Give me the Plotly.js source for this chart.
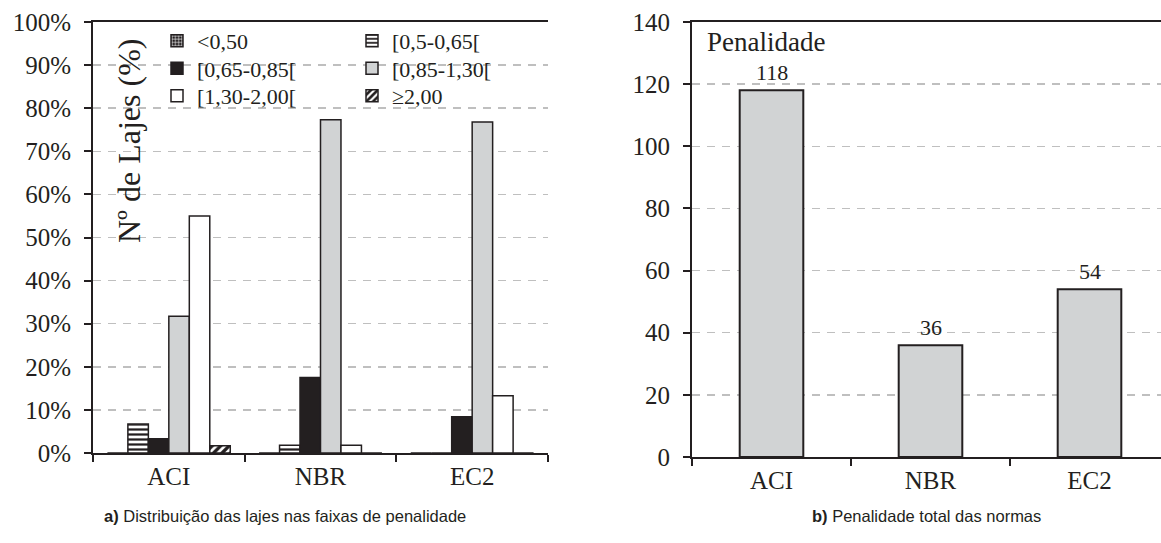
<!DOCTYPE html>
<html><head><meta charset="utf-8">
<script src="https://cdn.plot.ly/plotly-3.0.1.min.js"></script>
<style>body{margin:0;padding:0;background:#fff}#chart{width:1161px;height:543px}</style>
</head><body><div id="chart"></div>
<script>
const normas = ['ACI', 'NBR', 'EC2'];
const faixas = ['<0,50', '[0,5-0,65[', '[0,65-0,85[', '[0,85-1,30[', '[1,30-2,00[', '≥2,00'];
const pctMenor050 = [0, 0, 0];
const pct050a065 = [6.7, 1.8, 0];
const pct065a085 = [3.3, 17.5, 8.4];
const pct085a130 = [31.7, 77.3, 76.8];
const pct130a200 = [55.0, 1.8, 13.3];
const pctMaior200 = [1.7, 0, 0];
const penalidade = [118, 36, 54];

const W = 1161, H = 543;
const px = v => v / W;
const py = v => 1 - v / H;
const INK = '#231f20';
const GRAY = '#d1d3d4';
const serif = '"Liberation Serif", "Times New Roman", serif';
const sans = '"Liberation Sans", Arial, sans-serif';

const series = [pctMenor050, pct050a065, pct065a085, pct085a130, pct130a200, pctMaior200];
const fills = ['#ffffff', '#ffffff', INK, GRAY, '#ffffff', '#ffffff'];
const patterns = [
  {shape: '+', fgcolor: '#ffffff', bgcolor: INK, size: 4, solidity: 0.35},
  {shape: '-', fgcolor: INK, bgcolor: '#ffffff', size: 5, solidity: 0.45},
  null, null, null,
  {shape: '/', fgcolor: INK, bgcolor: '#ffffff', size: 6, solidity: 0.55}
];
const legendIds = ['legend', 'legend2', 'legend3', 'legend4', 'legend5', 'legend6'];

const traces = series.map((vals, i) => {
  const t = {
    type: 'bar', x: normas, y: vals, name: faixas[i],
    xaxis: 'x', yaxis: 'y', legend: legendIds[i],
    marker: {color: fills[i], line: {color: INK, width: 1.5}},
    hoverinfo: 'skip'
  };
  if (patterns[i]) t.marker.pattern = patterns[i];
  return t;
});

traces.push({
  type: 'bar', x: normas, y: penalidade, xaxis: 'x2', yaxis: 'y2',
  width: 0.4, showlegend: false,
  marker: {color: GRAY, line: {color: INK, width: 2}},
  hoverinfo: 'skip'
});

const axisCommon = {
  showline: true, linecolor: INK, linewidth: 2,
  ticks: 'outside', ticklen: 7, tickwidth: 2, tickcolor: INK,
  tickfont: {family: serif, size: 25, color: INK},
  fixedrange: true
};

// legend grid: 3 rows x 2 columns
const legendCols = [157, 352];
const legendRows = [41, 68.5, 96];

// value labels above the penalty bars, placed through the axes
const valueLabels = normas.map((n, i) => ({
  text: String(penalidade[i]), xref: 'x2', yref: 'y2', x: n, y: penalidade[i],
  xanchor: 'center', yanchor: 'bottom', yshift: 3, showarrow: false,
  font: {family: serif, size: 22, color: INK}
}));

const layout = {
  width: W, height: H,
  margin: {l: 0, r: 0, t: 0, b: 0},
  paper_bgcolor: '#ffffff', plot_bgcolor: '#ffffff',
  barmode: 'group', bargap: 0.19, bargroupgap: 0,
  font: {family: serif, color: INK},
  xaxis: Object.assign({}, axisCommon, {
    domain: [px(93), px(548)], type: 'category', range: [-0.5, 2.5],
    tickson: 'boundaries', mirror: true, showgrid: false, anchor: 'y'
  }),
  yaxis: Object.assign({}, axisCommon, {
    domain: [py(453), py(22)], range: [0, 100], dtick: 10, ticksuffix: '%',
    ticklabelstandoff: 8,
    showgrid: true, gridcolor: '#bfbfbf', gridwidth: 1.5, griddash: '8px,7px',
    zeroline: false, anchor: 'x'
  }),
  xaxis2: Object.assign({}, axisCommon, {
    domain: [px(692), 1], type: 'category', range: [-0.5, -0.5 + 469 / 159],
    tickson: 'boundaries', mirror: true, showgrid: false, anchor: 'y2'
  }),
  yaxis2: Object.assign({}, axisCommon, {
    domain: [py(457), py(22)], range: [0, 140], dtick: 20,
    ticklabelstandoff: 8,
    showgrid: true, gridcolor: '#bfbfbf', gridwidth: 1.5, griddash: '8px,7px',
    zeroline: false, anchor: 'x2'
  }),
  annotations: [
    {text: 'Nº de Lajes (%)', textangle: -90, xref: 'paper', yref: 'paper',
     x: px(129), y: py(141), xanchor: 'center', yanchor: 'middle', showarrow: false,
     font: {family: serif, size: 32, color: INK}},
    {text: 'Penalidade', xref: 'paper', yref: 'paper',
     x: px(705), y: py(42), xanchor: 'left', yanchor: 'middle', showarrow: false,
     font: {family: serif, size: 27, color: INK}},
    {text: '<b>a)</b> Distribuição das lajes nas faixas de penalidade', xref: 'paper', yref: 'paper',
     x: px(285), y: py(516), xanchor: 'center', yanchor: 'middle', showarrow: false,
     font: {family: sans, size: 16.5, color: INK}},
    {text: '<b>b)</b> Penalidade total das normas', xref: 'paper', yref: 'paper',
     x: px(926), y: py(516), xanchor: 'center', yanchor: 'middle', showarrow: false,
     font: {family: sans, size: 16.5, color: INK}}
  ].concat(valueLabels)
};

legendIds.forEach((id, i) => {
  layout[id] = {
    x: px(legendCols[i % 2]), y: py(legendRows[Math.floor(i / 2)]),
    xanchor: 'left', yanchor: 'middle',
    bgcolor: 'rgba(0,0,0,0)', borderwidth: 0,
    font: {family: serif, size: 22, color: INK}
  };
});

Plotly.newPlot('chart', traces, layout, {displayModeBar: false, staticPlot: true});
</script>
</body></html>
